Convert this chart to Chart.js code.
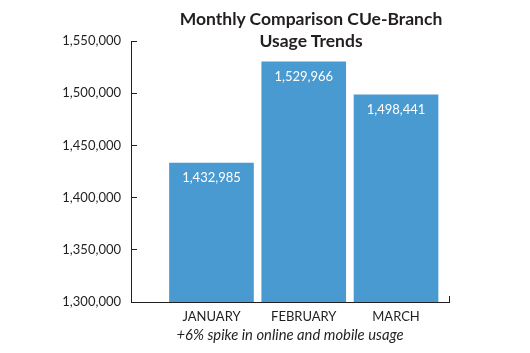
<!DOCTYPE html>
<html>
<head>
<meta charset="utf-8">
<script src="https://cdn.jsdelivr.net/npm/chart.js@4/dist/chart.umd.min.js"></script>
<style>
  html, body { margin: 0; padding: 0; background: #fff; }
  #wrap { position: relative; width: 530px; height: 353px; }
  #title {
    position: absolute; left: 161px; width: 300px; top: 8px;
    text-align: center; font-family: Lato, sans-serif; font-weight: bold;
    font-size: 17.5px; line-height: 22px; color: #231f20; white-space: nowrap;
  }
  canvas { position: absolute; left: 0; top: 0; }
</style>
</head>
<body>
<div id="wrap">
  <canvas id="c" width="530" height="353"></canvas>
  <div id="title">Monthly Comparison CUe-Branch<br>Usage Trends</div>
</div>
<script>
const months = ["JANUARY", "FEBRUARY", "MARCH"];
const usage = [1432985, 1529966, 1498441];
const yTicks = [1300000, 1350000, 1400000, 1450000, 1500000, 1550000];
const note = "+6% spike in online and mobile usage";

const fmt = v => Number(v).toLocaleString('en-US');
const ink = '#231f20';
const fontFam = 'Lato, sans-serif';

const valueLabels = {
  id: 'valueLabels',
  afterDatasetsDraw(chart) {
    const ctx = chart.ctx;
    const meta = chart.getDatasetMeta(0);
    ctx.save();
    ctx.fillStyle = '#ffffff';
    ctx.font = '13px ' + fontFam;
    ctx.textAlign = 'center';
    ctx.textBaseline = 'middle';
    meta.data.forEach((bar, i) => {
      ctx.fillText(fmt(usage[i]), bar.x, bar.y + 15);
    });
    ctx.restore();
  }
};

new Chart(document.getElementById('c'), {
  type: 'bar',
  data: {
    datasets: [{
      data: months.map((m, i) => ({ x: i, y: usage[i] })),
      backgroundColor: '#4a9ad2',
      borderWidth: 0,
      barThickness: 84,
      maxBarThickness: 84
    }]
  },
  options: {
    responsive: false,
    animation: false,
    layout: { padding: { top: 41, right: 81, left: 0, bottom: 0 } },
    plugins: { legend: { display: false }, tooltip: { enabled: false } },
    scales: {
      x: {
        type: 'linear',
        offset: false,
        min: -0.872,
        max: 2.574,
        afterBuildTicks: s => {
          s.ticks = months.map((m, i) => ({ value: i })).concat([{ value: s.max }]);
        },
        afterFit: s => { s.height = 51; },
        ticks: {
          autoSkip: false,
          maxRotation: 0,
          padding: 13,
          color: ink,
          font: { family: fontFam, size: 13 },
          callback: v => (Number.isInteger(v) && months[v]) ? months[v] : ''
        },
        grid: {
          offset: false,
          drawOnChartArea: false,
          drawTicks: true,
          tickLength: -6,
          color: c => (c.index === months.length ? ink : 'rgba(0,0,0,0)')
        },
        border: { display: true, color: ink, width: 1 },
        title: {
          display: true,
          text: note,
          color: ink,
          font: { family: fontFam, size: 14.8, style: 'italic' },
          padding: { top: 0, bottom: 9 }
        }
      },
      y: {
        min: yTicks[0],
        max: yTicks[yTicks.length - 1],
        afterBuildTicks: s => { s.ticks = yTicks.map(v => ({ value: v })); },
        afterFit: s => { s.width = 131; },
        ticks: {
          padding: 16,
          color: ink,
          font: { family: fontFam, size: 13 },
          callback: v => fmt(v)
        },
        grid: {
          drawOnChartArea: false,
          drawTicks: true,
          tickLength: -6,
          color: ink
        },
        border: { display: true, color: ink, width: 1 }
      }
    }
  },
  plugins: [valueLabels]
});
</script>
</body>
</html>
